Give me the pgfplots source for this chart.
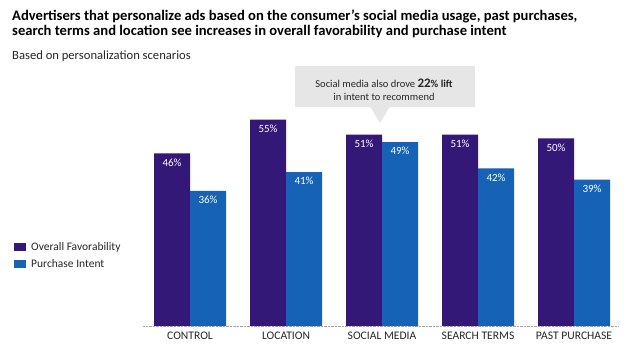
\documentclass[border=0pt]{standalone}
\usepackage{pgfplots}
\pgfplotsset{compat=1.18}
\usepackage{fontspec}
\setmainfont{Carlito}
\definecolor{cpurple}{RGB}{52,24,120}
\definecolor{cblue}{RGB}{22,98,182}
\definecolor{ctext}{RGB}{38,38,38}
\definecolor{cbox}{RGB}{230,230,230}
\begin{document}
\begin{tikzpicture}[x=1pt,y=1pt]
\useasboundingbox (0,0) rectangle (629,350);
% title
\node[anchor=west, font=\fontsize{14.6}{16}\selectfont\bfseries, text=black, inner sep=0pt] at (12,334) {Advertisers that personalize ads based on the consumer’s social media usage, past purchases,};
\node[anchor=west, font=\fontsize{14.6}{16}\selectfont\bfseries, text=black, inner sep=0pt] at (12,318) {search terms and location see increases in overall favorability and purchase intent};
\node[anchor=west, font=\fontsize{12.6}{14}\selectfont, text=ctext, inner sep=0pt] at (12,294) {Based on personalization scenarios};
% callout
\fill[cbox] (295,243) rectangle (475,284);
\fill[cbox] (370,243.5) -- (390,243.5) -- (380,227) -- cycle;
\node[font=\fontsize{10.5}{12}\selectfont, text=ctext, inner sep=0pt] at (384,267) {Social media also drove \textbf{{\fontsize{13}{12}\selectfont 22}\% lift}};
\node[font=\fontsize{10.5}{12}\selectfont, text=ctext, inner sep=0pt] at (384,253) {in intent to recommend};
% legend
\fill[cpurple] (14,99) rectangle (26,107);
\node[anchor=west, font=\fontsize{11.5}{13}\selectfont, text=ctext, inner sep=0pt] at (31,103) {Overall Favorability};
\fill[cblue] (14,82) rectangle (26,90);
\node[anchor=west, font=\fontsize{11.5}{13}\selectfont, text=ctext, inner sep=0pt] at (31,86) {Purchase Intent};
\begin{axis}[
  at={(143pt,24pt)}, anchor=south west,
  scale only axis, width=475pt, height=225pt,
  xmin=-0.49, xmax=4.458, ymin=0, ymax=60,
  ybar=0pt, bar width=36pt,
  axis x line=bottom, axis y line=none,
  x axis line style={draw=gray!70, densely dotted, -},
  xtick=data, xtick style={draw=none},
  xticklabels={CONTROL, LOCATION, SOCIAL MEDIA, SEARCH TERMS, PAST PURCHASE},
  xticklabel style={font=\fontsize{11.6}{13}\selectfont, text=ctext},
  nodes near coords={\pgfmathprintnumber[assume math mode=true,fixed,precision=0]{\pgfplotspointmeta}\%},
  nodes near coords style={anchor=north, text=white, font=\fontsize{11}{12}\selectfont, inner sep=0pt, yshift=-5pt},
  clip=false,
]
\addplot[fill=cpurple, draw=none] coordinates {(0,46) (1,55) (2,51) (3,51) (4,50)};
\addplot[fill=cblue, draw=none] coordinates {(0,36) (1,41) (2,49) (3,42) (4,39)};
\end{axis}
\end{tikzpicture}
\end{document}
